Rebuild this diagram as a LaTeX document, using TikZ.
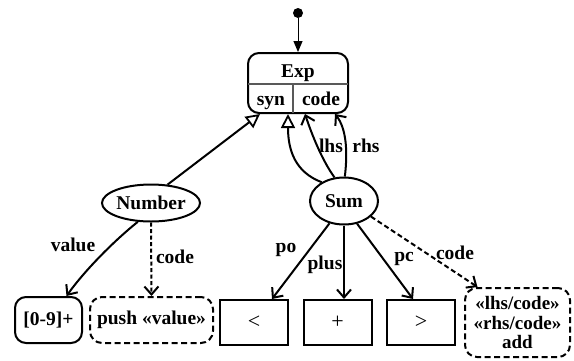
\documentclass[tikz,border=0pt]{standalone}
\usepackage{fontspec}
\setmainfont{Liberation Serif}
\usetikzlibrary{arrows.meta,shapes.geometric}
\begin{document}
\begin{tikzpicture}[x=1pt,y=-1pt,
  font=\fontsize{19.5}{21}\selectfont\bfseries,
  every node/.style={inner sep=0pt},
  lw/.style={line width=2pt},
  arr/.style={lw,-{Straight Barb[length=8pt,width=14pt,line width=2pt]}},
  inh/.style={lw,-{Triangle[open,length=14pt,width=14pt,line width=1.8pt]}},
  rbox/.style={draw,lw,rounded corners=11pt},
  dbox/.style={draw,lw,rounded corners=12pt,dash pattern=on 6pt off 3.5pt},
  pbox/.style={draw,lw,minimum width=68pt,minimum height=45pt,font=\fontsize{22}{24}\selectfont},
]
\useasboundingbox (0,0) rectangle (574,360);
% top start dot
\node[circle,fill=black,minimum size=10pt] (start) at (298,13) {};
% Exp box
\node[rbox,minimum width=100pt,minimum height=60pt] (exp) at (298,83) {};
\node[anchor=base] (exptxt) at (298,77) {Exp};
\node[anchor=base] (syn) at (271,105) {syn};
\node[anchor=base] (code) at (321,105) {code};
\coordinate (dl) at (248,84);
\coordinate (dr) at (348,84);
\coordinate (vt) at (293,84);
\coordinate (vb) at (293,113);
\draw[line width=1.1pt,black!65] (dl) -- (dr);
\draw[line width=1.1pt,black!65] (vt) -- (vb);
\draw[line width=1pt,-{Triangle[length=11pt,width=9pt]}] (start) -- (exp.north);
% ellipses
\node[draw,lw,ellipse,minimum width=91pt,minimum height=37pt] (num) at (151,203) {Number};
\node[draw,lw,ellipse,minimum width=68pt,minimum height=47pt] (sum) at (344,201) {Sum};
% bottom boxes
\node[rbox,minimum width=67pt,minimum height=46pt] (re) at (48.5,320) {[0-9]+};
\node[dbox,minimum width=123pt,minimum height=46pt] (push) at (151.5,320) {push «value»};
\node[pbox] (lt) at (254,322.5) {<};
\node[pbox] (pl) at (337.5,322.5) {+};
\node[pbox] (gt) at (421,322.5) {>};
\node[dbox,minimum width=105pt,minimum height=69pt,align=center,font=\fontsize{19}{19.5}\selectfont\bfseries] (add) at (517.5,322.5) {«lhs/code»\\«rhs/code»\\add};
% inheritance
\draw[inh] (num.48) -- ([xshift=-38pt]exp.south);
\draw[inh] (sum.140) .. controls (295,172) and (288,150) .. ([xshift=-10pt]exp.south);
% lhs / rhs
\draw[arr] (sum.112) .. controls (322,160) and (312,135) .. ([xshift=7pt]exp.south);
\draw[arr] (sum.88) .. controls (348,150) and (346,128) .. ([xshift=37pt]exp.south);
\node (llhs) at (331,146) {lhs};
\node (lrhs) at (366,146) {rhs};
% Number edges
\draw[arr] (num.235) .. controls (115,240) and (85,270) .. ([xshift=18pt]re.north);
\node (lval) at (73,245) {value};
\draw[arr,dash pattern=on 4pt off 2.5pt] (num.south) -- (push.north);
\node (lcode1) at (175,257) {code};
% Sum edges
\draw[arr] (sum.237) -- ([xshift=18pt]lt.north);
\node (lpo) at (286,250) {po};
\draw[arr] (sum.south) -- ([xshift=6.5pt]pl.north);
\node (lplus) at (325,265) {plus};
\draw[arr] (sum.300) -- ([xshift=-8pt]gt.north);
\node (lpc) at (404,259) {pc};
\draw[arr,dash pattern=on 5pt off 3pt] (sum.330) -- ([xshift=-40pt]add.north);
\node (lcode2) at (455,253) {code};
\end{tikzpicture}
\end{document}
